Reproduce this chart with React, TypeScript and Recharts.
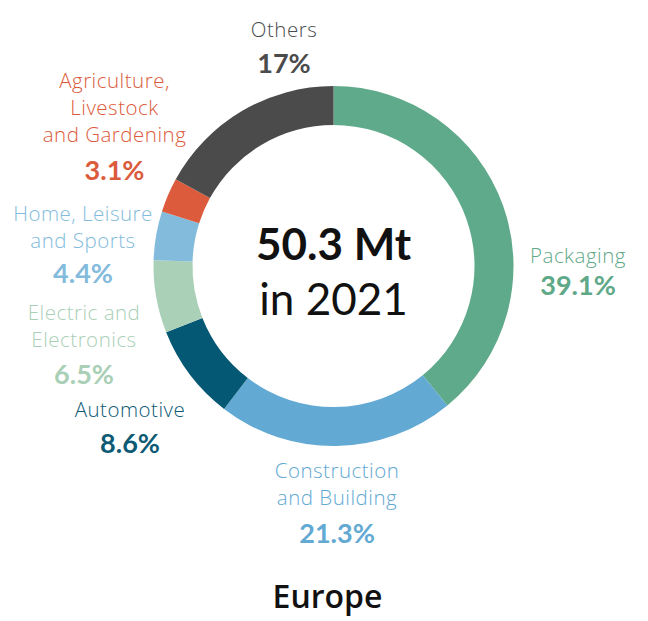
import React from 'react';
import { PieChart, Pie, Cell } from 'recharts';

// sectors, clockwise from 12 o'clock
const categories = [
  'Packaging',
  'Construction and Building',
  'Automotive',
  'Electric and Electronics',
  'Home, Leisure and Sports',
  'Agriculture, Livestock and Gardening',
  'Others',
];
const shares = [39.1, 21.3, 8.6, 6.5, 4.4, 3.1, 17];
const shareLabels = ['39.1%', '21.3%', '8.6%', '6.5%', '4.4%', '3.1%', '17%'];
const labelLines = [
  ['Packaging'],
  ['Construction', 'and Building'],
  ['Automotive'],
  ['Electric and', 'Electronics'],
  ['Home, Leisure', 'and Sports'],
  ['Agriculture,', 'Livestock', 'and Gardening'],
  ['Others'],
];
const colors = ['#5faa8a', '#62a9d3', '#045873', '#abd0b8', '#83bbdc', '#db5b3c', '#4b4b4b'];
const labelColors = ['#5fa888', '#62a9d3', '#0d5a74', '#a9cfb6', '#83bbdc', '#db5b3c', '#4b4b4b'];

const totalText = '50.3 Mt';
const yearText = 'in 2021';
const regionText = 'Europe';

// label placement relative to the pie centre: [dx, first baseline dy, gap to percentage]
const labelPlacement = [
  [244.5, -3, 32],
  [3.5, 212, 38],
  [-203.5, 151, 36],
  [-249.5, 54, 37],
  [-250.5, -45, 35],
  [-219, -178, 38],
  [-49.5, -229, 36],
];

const LABEL_FONT = '"Open Sans", sans-serif';
const FONT = 'Lato, sans-serif';
const CX = 325.5;
const CY = 258;

const data = categories.map((name, i) => ({ name, value: shares[i] }));

const renderLabel = (props: any) => {
  const { index } = props;
  const [dx, dy, gap] = labelPlacement[index];
  const x = CX + dx;
  const lines = labelLines[index];
  const color = labelColors[index];
  return (
    <g key={`lbl-${index}`}>
      {lines.map((line, j) => (
        <text
          key={j}
          x={x}
          y={CY + dy + j * 27}
          textAnchor="middle"
          fill={color}
          fontFamily={LABEL_FONT}
          fontSize={20.5}
          fontWeight={300}
          letterSpacing={0.5}
        >
          {line}
        </text>
      ))}
      <text
        x={x}
        y={CY + dy + (lines.length - 1) * 27 + gap}
        textAnchor="middle"
        fill={color}
        fontFamily={FONT}
        fontSize={27}
        fontWeight={700}
      >
        {shareLabels[index]}
      </text>
    </g>
  );
};

export default function App() {
  return (
    <div style={{ width: 632, height: 610 }}>
      <PieChart width={632} height={610} margin={{ top: 0, right: 0, bottom: 0, left: 0 }}>
        <Pie
          data={data}
          dataKey="value"
          nameKey="name"
          cx={CX}
          cy={CY}
          innerRadius={141}
          outerRadius={180}
          startAngle={90}
          endAngle={-270}
          stroke="none"
          label={renderLabel}
          labelLine={false}
          isAnimationActive={false}
        >
          {data.map((d, i) => (
            <Cell key={d.name} fill={colors[i]} />
          ))}
        </Pie>
        <text x={CX} y={CY - 6} textAnchor="middle" fontFamily={FONT} fontSize={44} fontWeight={700} fill="#111">
          {totalText}
        </text>
        <text x={CX} y={CY + 49} textAnchor="middle" fontFamily={FONT} fontSize={44} fontWeight={400} fill="#111">
          {yearText}
        </text>
        <text x={CX - 6} y={CY + 342} textAnchor="middle" fontFamily={LABEL_FONT} fontSize={32} fontWeight={600} fill="#111">
          {regionText}
        </text>
      </PieChart>
    </div>
  );
}
